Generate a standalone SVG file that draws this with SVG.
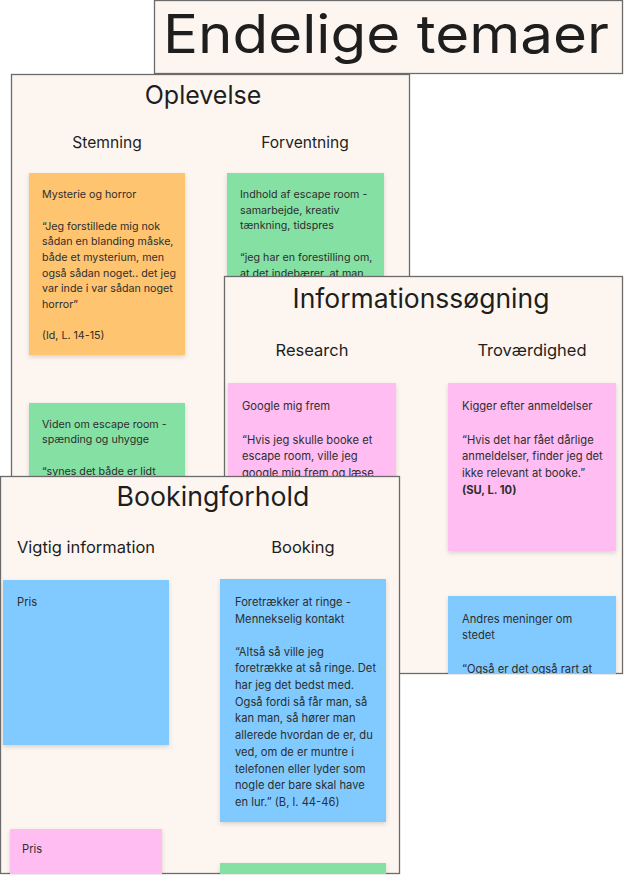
<svg xmlns="http://www.w3.org/2000/svg" width="624" height="875" viewBox="0 0 624 875">
<style>
.panel{fill:#FDF6F0;stroke:#6B6B6B;stroke-width:1.3}
.h0{font-family:Inter,"Noto Sans","Liberation Sans",sans-serif;font-size:53px;font-weight:400;fill:#1E1E1E}
.h1{font-family:Inter,"Noto Sans","Liberation Sans",sans-serif;font-size:25px;fill:#1E1E1E;text-anchor:middle}
.h2{font-family:Inter,"Noto Sans","Liberation Sans",sans-serif;font-size:16.5px;fill:#1E1E1E;text-anchor:middle}
.t{font-family:Inter,"Noto Sans","Liberation Sans",sans-serif;font-size:11.2px;fill:#2E2E2E}
.s{font-size:10.7px}
.b{font-weight:bold}
.orange{fill:#FFC470}
.green{fill:#85E0A3}
.pink{fill:#FFBDF2}
.blue{fill:#80CAFF}
</style>
<defs>
<filter id="sh" x="-10%" y="-10%" width="120%" height="125%">
<feDropShadow dx="0" dy="2" stdDeviation="2" flood-color="#000" flood-opacity="0.15"/>
</filter>
<clipPath id="cOp"><rect x="12" y="74" width="398" height="576"/></clipPath>
<clipPath id="cIn"><rect x="224" y="276" width="399" height="398"/></clipPath>
<clipPath id="cBo"><rect x="0.5" y="476" width="399" height="398"/></clipPath>
</defs>

<g id="title">
<rect class="panel" x="154.5" y="0.5" width="468" height="73"/>
<text class="h0" x="163" y="53" textLength="446" lengthAdjust="spacingAndGlyphs">Endelige temaer</text>
</g>

<g id="oplevelse">
<rect class="panel" x="11.5" y="74.5" width="398" height="576"/>
<text class="h1" x="203" y="104">Oplevelse</text>
<text class="h2" x="107" y="148" style="font-size:15.6px">Stemning</text>
<text class="h2" x="305" y="148" style="font-size:15.6px">Forventning</text>
<g clip-path="url(#cOp)">
<g id="op-note-mysterie">
<rect class="orange" x="29" y="173" width="156" height="182" filter="url(#sh)"/>
<text class="t s" x="42" y="198">Mysterie og horror</text>
<text class="t s" x="42" y="229.5">“Jeg forstillede mig nok</text>
<text class="t s" x="42" y="245.2">sådan en blanding måske,</text>
<text class="t s" x="42" y="260.9">både et mysterium, men</text>
<text class="t s" x="42" y="276.6">også sådan noget.. det jeg</text>
<text class="t s" x="42" y="292.3">var inde i var sådan noget</text>
<text class="t s" x="42" y="308">horror”</text>
<text class="t s" x="42" y="339.4">(Id, L. 14-15)</text>
</g>
<g id="op-note-indhold">
<rect class="green" x="227" y="173" width="157" height="182" filter="url(#sh)"/>
<text class="t s" x="240" y="198">Indhold af escape room -</text>
<text class="t s" x="240" y="213.7">samarbejde, kreativ</text>
<text class="t s" x="240" y="229.4">tænkning, tidspres</text>
<text class="t s" x="240" y="260.8">“jeg har en forestilling om,</text>
<text class="t s" x="240" y="276.5">at det indebærer, at man</text>
</g>
<g id="op-note-viden">
<rect class="green" x="29" y="403" width="156" height="182" filter="url(#sh)"/>
<text class="t s" x="42" y="427.5">Viden om escape room -</text>
<text class="t s" x="42" y="443.2">spænding og uhygge</text>
<text class="t s" x="42" y="474.6">“synes det både er lidt</text>
</g>
</g>
</g>

<g id="informationssoegning">
<rect class="panel" x="224.5" y="276.5" width="398" height="397"/>
<text class="h1" x="421" y="308" style="font-size:26.5px">Informationssøgning</text>
<text class="h2" x="312" y="356">Research</text>
<text class="h2" x="532" y="356">Troværdighed</text>
<g clip-path="url(#cIn)">
<g id="in-note-google">
<rect class="pink" x="228" y="383" width="168" height="168" filter="url(#sh)"/>
<text class="t" x="242" y="409.5">Google mig frem</text>
<text class="t" x="242" y="443.5">“Hvis jeg skulle booke et</text>
<text class="t" x="242" y="460.2">escape room, ville jeg</text>
<text class="t" x="242" y="476.9">google mig frem og læse</text>
</g>
<g id="in-note-anmeldelser">
<rect class="pink" x="448" y="383" width="168" height="168" filter="url(#sh)"/>
<text class="t" x="462" y="409.5">Kigger efter anmeldelser</text>
<text class="t" x="462" y="443.5">“Hvis det har fået dårlige</text>
<text class="t" x="462" y="460.2">anmeldelser, finder jeg det</text>
<text class="t" x="462" y="476.9">ikke relevant at booke.”</text>
<text class="t b" x="462" y="493.6">(SU, L. 10)</text>
</g>
<g id="in-note-andres">
<rect class="blue" x="448" y="596" width="168" height="168" filter="url(#sh)"/>
<text class="t" x="462" y="622.5">Andres meninger om</text>
<text class="t" x="462" y="639.2">stedet</text>
<text class="t" x="462" y="672.6">“Også er det også rart at</text>
</g>
</g>
</g>

<g id="bookingforhold">
<rect class="panel" x="0.5" y="476.5" width="399" height="397"/>
<text class="h1" x="213" y="505.5" style="font-size:26.7px">Bookingforhold</text>
<text class="h2" x="86" y="553">Vigtig information</text>
<text class="h2" x="303" y="553">Booking</text>
<g clip-path="url(#cBo)">
<g id="bo-note-pris-blue">
<rect class="blue" x="3" y="580" width="166" height="165" filter="url(#sh)"/>
<text class="t" x="17" y="606.3">Pris</text>
</g>
<g id="bo-note-ringe">
<rect class="blue" x="220" y="579" width="166" height="243" filter="url(#sh)"/>
<text class="t" x="235" y="606.3">Foretrækker at ringe -</text>
<text class="t" x="235" y="622.6">Mennekselig kontakt</text>
<text class="t" x="235" y="655.6">“Altså så ville jeg</text>
<text class="t" x="235" y="672.3">foretrække at så ringe. Det</text>
<text class="t" x="235" y="689">har jeg det bedst med.</text>
<text class="t" x="235" y="705.7">Også fordi så får man, så</text>
<text class="t" x="235" y="722.4">kan man, så hører man</text>
<text class="t" x="235" y="739.1">allerede hvordan de er, du</text>
<text class="t" x="235" y="755.8">ved, om de er muntre i</text>
<text class="t" x="235" y="772.5">telefonen eller lyder som</text>
<text class="t" x="235" y="789.2">nogle der bare skal have</text>
<text class="t" x="235" y="805.9">en lur.” (B, l. 44-46)</text>
</g>
<g id="bo-note-pris-pink">
<rect class="pink" x="10" y="829" width="152" height="160" filter="url(#sh)"/>
<text class="t" x="22" y="853.3">Pris</text>
</g>
<g id="bo-note-green">
<rect class="green" x="220" y="863" width="166" height="160" filter="url(#sh)"/>
</g>
</g>
</g>
</svg>
